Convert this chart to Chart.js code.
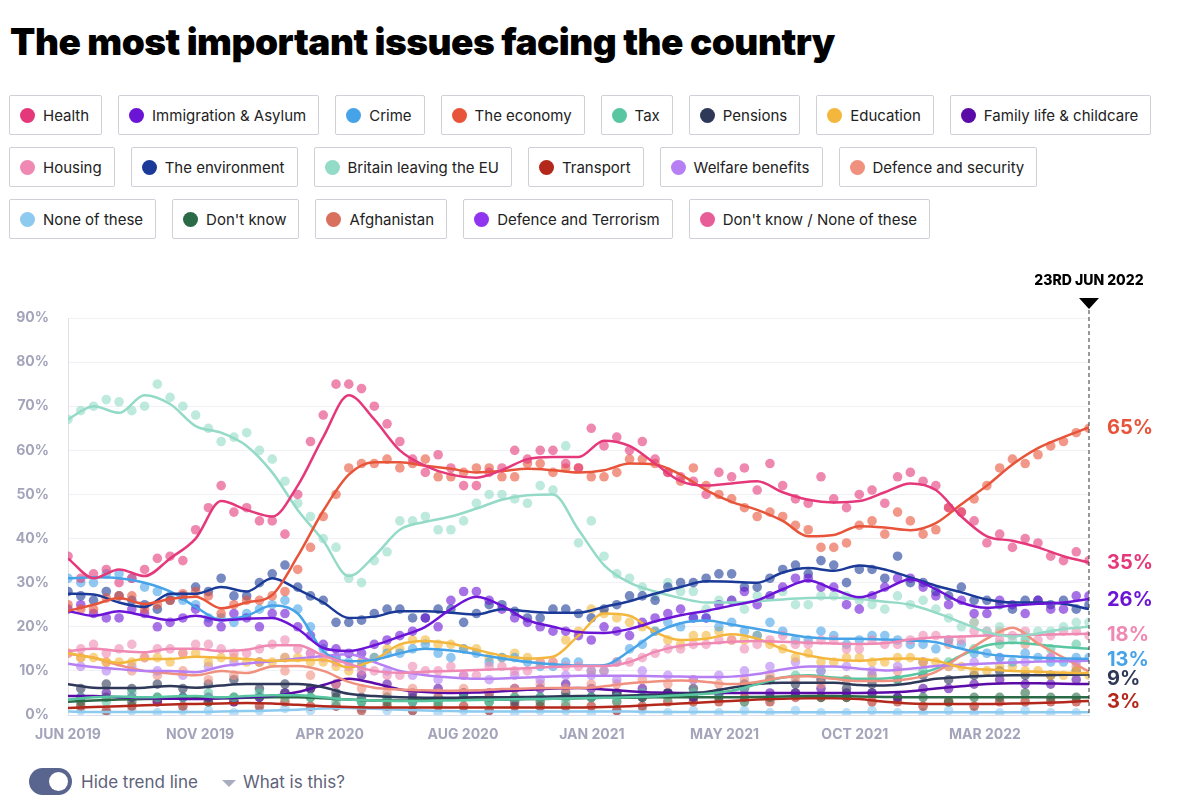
<!DOCTYPE html>
<html>
<head>
<meta charset="utf-8">
<script src="https://cdn.jsdelivr.net/npm/chart.js@4.4.0/dist/chart.umd.min.js"></script>
<style>
body { margin:0; background:#fff; font-family: Inter, "Noto Sans", sans-serif; width:1200px; height:807px; position:relative; overflow:hidden; }
h1 { position:absolute; left:10px; top:19px; margin:0; font-size:37px; line-height:46px; font-weight:900; color:#000; letter-spacing:-0.5px; }
.legend { position:absolute; left:9px; top:95px; }
.row { display:flex; gap:16px; margin-bottom:12px; }
.item { height:38px; border:1px solid #cfd0d8; border-radius:2px; display:flex; align-items:center; padding:0 12px 0 10px; font-size:15px; color:#222; }
.dot { width:15px; height:15px; border-radius:50%; margin-right:8px; }
#wrap { position:absolute; left:0; top:260px; width:1200px; height:492px; }
.controls { position:absolute; left:29px; top:768px; height:27px; display:flex; align-items:center; }
.toggle { width:43px; height:27px; border-radius:14px; background:#59658f; position:relative; }
.knob { position:absolute; right:4px; top:4px; width:19px; height:19px; border-radius:50%; background:#fff; }
.ctl { font-size:17px; color:#5e6279; margin-left:9px; }
.caret { width:0; height:0; border-left:7px solid transparent; border-right:7px solid transparent; border-top:7px solid #a9adc0; margin-left:24px; margin-top:3px; }
.caret + .ctl { margin-left:7px; }
</style>
</head>
<body>
<h1>The most important issues facing the country</h1>
<div class="legend" id="legend"></div>
<div id="wrap"><canvas id="mii"></canvas></div>
<div class="controls">
  <div class="toggle"><div class="knob"></div></div>
  <span class="ctl">Hide trend line</span>
  <span class="caret"></span>
  <span class="ctl">What is this?</span>
</div>
<script>
// weeks since the start of the series (Jun 2019); 160 = 23 Jun 2022
const trendWeeks = [0,4,8,12,16,20,24,28,32,36,40,44,48,52,56,60,64,68,72,76,80,84,88,92,96,100,104,108,112,116,120,124,128,132,136,140,144,148,152,156,160];
const dotWeeks = [2,6,10,14,18,22,26,30,34,38,42,46,50,54,58,62,66,70,74,78,82,86,90,94,98,102,106,110,114,118,122,126,130,134,138,142,146,150,154,158];

const tickWeeks = [0,20.7,41,61.9,82.1,102.9,123.3,143.7];
const tickLabels = ['JUN 2019','NOV 2019','APR 2020','AUG 2020','JAN 2021','MAY 2021','OCT 2021','MAR 2022'];
const markerWeek = 160;
const markerLabel = '23RD JUN 2022';

// trend lines (%)
const healthTrend = [35.5,31,33,31.5,35.5,40,48.5,46.5,45,52,63,72.5,67,60,56.5,54.5,53.8,55.5,58,58.5,58.5,62.2,61,57,53,52,52.5,53,50.5,48.8,48.2,48.5,50.5,52.5,51,45,40.5,39.5,38,36,34.6];
const economyTrend = [23.6,25,26.5,25.2,26.3,26.8,24.2,25.5,27.2,36,46.3,54.5,57.3,57.3,56.5,55.8,55,55.3,55.8,55.5,55,55.5,57,56.8,54.5,51,48.3,46.5,44,40.5,40.8,42.8,42.5,41.9,43.5,47.8,52,56.8,60.5,63,65.2];
const brexitTrend = [67,70,68.5,72.5,70.5,65.5,64,61,55,46.5,39.5,31.5,36,42,43.8,45,46.8,48.8,49.8,50,42,34,30,28,26.5,25.5,25.5,25.8,26.2,26.5,26.6,26.3,25.7,25,23.2,21,18.8,17.8,18.5,19.5,20];
const envTrend = [27.5,27.3,25.5,24.5,27.5,27.5,29,28,31,28.5,25.5,22,22.3,23.5,23.5,23.2,22.8,24,23.5,23.2,23.2,24.5,25.8,27.5,29,30.3,30.2,30,32.3,33.3,32.7,33.9,33,31.2,29.3,27.8,26.2,25.5,25.5,25.2,24];
const immTrend = [23.6,22.5,23.5,22.5,21.5,22.5,21.5,21.8,22,19.5,15.2,14.5,15.8,17.8,20,24,26.8,24.8,21.5,20,18.8,18.6,19.5,21.2,22.6,23.6,24.8,26,28.5,30.5,28.5,26.7,28.5,30.8,28.5,25.5,24.3,24.8,25.2,25.5,26.3];
const crimeTrend = [31,31.2,31,30,28,24.5,21.6,22.5,24.8,23,14.5,12.2,12.5,14,15,14.6,13.8,12.8,12,11.5,11.2,11.3,14.5,18.5,20.8,21.4,20.5,19.5,18.5,17.6,17.3,17.3,17.1,16.9,16.5,15,13.8,13.3,13,12.8,12.7];
const housingTrend = [14.5,15,14.5,14.2,15,15,14.5,14.8,15.8,15.8,13.5,11.6,10,9.6,9.8,10,10.2,10.4,10.6,10.9,11.1,11.1,12,14.3,15.7,16.2,16.6,16.8,16.6,16.4,16.2,16.1,16.3,17.1,17.6,17.8,18,18.1,18.2,18.3,18.4];
const eduTrend = [14,13,11.8,12.7,12.7,13.2,13,12.7,12.3,12.4,12.5,10.8,12.5,16,16.8,16.2,14.8,13.5,12.8,13.2,18,23,22.5,18.8,17,17.3,18.3,17.3,15,13.5,12.6,12.3,12.7,12.8,12.3,10.8,10.3,10,9.8,9.6,9.5];
const welfareTrend = [11.6,10.9,10.4,10,10,9.7,11,11.7,12.2,12.8,13.4,13.8,12,10,9,8.5,8.2,8.3,8.5,8.7,8.9,8.9,8.9,8.8,8.7,8.6,8.7,9.3,10.3,11,11,10.5,10.1,10.5,11.1,11.4,11.7,11.9,12.1,12.2,12.3];
const defenceTrend = [13.9,13,11.3,10,9.4,9,10,9.5,11,11.1,10,7.5,6.2,5.8,5.6,5.5,5.6,5.9,6,6.1,6.1,6.5,7.2,7.6,7.8,7.5,7,7.5,8.5,8.8,8.2,7.7,7.7,8.2,9.8,13.5,17.3,19.8,16.2,13,9.8];
const pensionsTrend = [7,6.2,6.1,6.2,6.6,6.2,6.7,7,7,7,6.3,4.8,4.3,4,3.9,3.9,4,4,4.1,4.2,4.3,4.3,4.4,4.6,4.8,5.2,6.2,7,7.3,7.3,7.3,6.8,6.7,7.2,8.2,8.6,8.9,9,9,9.1,9.2];
const taxTrend = [3.5,4,4.2,4,4.2,4.3,4,4.3,4.5,4.5,4,3.5,3.3,3.2,3.2,3.3,3.4,3.5,3.6,3.7,3.8,3.9,4,4.2,4.5,4.8,5.5,7,8.5,9,8.5,8.2,8.3,9,10.5,13.5,15.8,16.4,16,15.4,15];
const familyTrend = [4.3,4.3,4,3.8,3.7,3.6,3.8,4,4.3,5.2,6.8,8.2,7.2,5.8,5.2,5,5.1,5.4,5.7,6,6.1,5.8,5.4,5.1,5,5,5,5,5,5,5,5,5.1,5.4,6,6.5,7,7.2,7.2,7.1,7];
const dkTrend = [3,3.3,3.5,3.6,3.7,3.8,3.8,3.9,4,4,3.8,3.5,3.3,3.3,3.4,3.5,3.5,3.5,3.6,3.7,3.8,3.9,3.9,4,4,4,4,4.1,4.2,4.3,4.3,4.2,4.1,4,4,4,4,4,4,4,4];
const transportTrend = [1.6,1.8,2,2.2,2.4,2.5,2.6,2.7,2.6,2.3,2,1.8,1.7,1.7,1.7,1.7,1.7,1.7,1.7,1.7,1.7,1.8,2,2.3,2.6,2.9,3.2,3.5,3.7,3.8,3.8,3.6,3,2.6,2.5,2.5,2.5,2.6,2.7,2.9,3.2];
const noneTrend = [0.8,0.7,0.7,0.7,0.7,0.7,0.8,0.9,1,1.2,1.5,1.6,1.4,1.2,1,0.9,0.8,0.8,0.8,0.8,0.8,0.8,0.8,0.7,0.7,0.7,0.7,0.7,0.6,0.6,0.6,0.6,0.6,0.6,0.6,0.6,0.6,0.6,0.6,0.6,0.6];

// individual poll results (%), between trend points
const healthDots = [31,33,31,35.5,35,47,46,44,41,62,75,74,66,58,59,52,55,60,60,57,65,63,62,55,53,55,56,57,49,54,47,51,54,53,47,44,41,40,36,37];
const economyDots = [24,26.5,27,25,27.5,27,25,26,28,38,50,57,58,57,54,55,56,54,57,56,54,55,58,55,56,50,47,46,43,38,39,44,46,41,47,49,56,57,61,64];
const brexitDots = [69,71.5,69,75,70,65,63,60,53,45,38,30,37,44,42,44,50,49,52,61,44,32,29,30,28,26,24,27,25,27,27,25,27,26,22,21,20,18,19,21];
const envDots = [27,28,26,24,27,28,27,30,34,27,21,21.5,24,22,24,21,25,23.5,22,24,22,25,27,29,30,32,29,31,34,35,30,33,36,30,27,26,25,26,25,24];
const immDots = [25,22,24,20,22,21,23,20,23,18,15,14,17,19,20,28,26,22,20,19,17,19,21,23,22,25,28,27,31,29,25,27,31,29,25,23,26,23,24,27];
const crimeDots = [30,32,31,28,26,22,21,24,26,20,13,11,14,15,14,15,12,13,11,12,10,12,16,21,22,20,19,21,17,19,16,18,17,16,17,14,13,14,12,13];
const housingDots = [15,14,16,15,14,16,14,15,17,14,12,10,9,11,10,9,11,10,12,11,10,12,13,15,16,17,15,17,16,17,15,17,16,18,17,19,17,19,18,19];
const eduDots = [13,12,12,13,14,12,13,12,13,12,11,12,15,17,16,15,13,14,12,17,24,22,20,17,18,19,17,16,13,12,13,12,13,12,11,10,11,10,9,10];
const welfareDots = [11,10,11,10,9,11,12,12,13,14,13,12,10,9,8,9,8,9,8,9,9,8,10,9,8,9,10,11,12,10,11,10,11,12,11,12,13,12,13,12];
const defenceDots = [13,12,10,9,10,8,9,12,10,9,7,6,5,6,5,6,5,6,7,6,7,7,8,7,8,7,8,9,8,7,8,9,10,12,16,21,19,16,13,11];
const pensionsDots = [6,7,6,7,6,7,8,6,7,6,5,4,4,3,4,5,4,3,4,5,4,5,4,5,6,5,7,8,7,8,6,7,8,9,8,9,10,9,9,10];
const taxDots = [4,3,5,4,4,5,4,5,4,4,3,3,4,3,3,4,3,4,4,3,4,4,5,4,5,5,6,8,9,10,8,9,8,10,12,15,16,17,15,16];
const familyDots = [4,5,4,3,4,4,3,4,5,6,7,9,7,5,6,5,5,6,6,7,6,5,6,5,4,5,6,5,5,6,5,5,4,6,6,7,8,7,7,8];
const dkDots = [3,4,3,4,4,3,4,4,5,4,4,3,3,4,3,4,3,4,3,4,4,3,4,5,4,4,3,4,5,4,4,5,4,4,3,4,4,5,4,4];
const transportDots = [2,1,2,3,2,3,3,2,3,2,2,1,2,1,2,2,1,2,2,2,2,1,2,3,3,3,4,3,4,4,4,3,3,2,3,2,3,3,3,3];
const noneDots = [1,0.5,1,0.5,1,1,0.5,1,1.5,1,2,1.5,1,1,0.5,1,1,0.5,1,1,0.5,1,1,0.5,1,0.5,1,0.5,1,0.5,0.5,1,0.5,0.5,1,0.5,0.5,1,0.5,0.5];

// more poll results for the larger issues, on the trend weeks
const healthDots2 = [36,32,30,33,36,42,52,47,44,50,68,75,70,62,55,56,52,56,58,60,56,61,60,58,54,50,54,51,52,48,49,50,48,55,52,46,39,38,39,35,35];
const economyDots2 = [25,24,27,24,26,28,23,26,27,33,45,56,57,56,58,54,56,54,57,55,56,54,58,57,53,52,49,45,45,42,38,43,41,44,42,46,52,58,59,62,65];
const brexitDots2 = [67,70,71,70,72,68,62,64,58,48,40,31,35,44,45,42,48,50,48,51,39,36,31,27,28,24,26,27,28,25,27,26,24,25,24,20,19,17,19,20,21];
const envDots2 = [28,26,27,25,26,29,31,27,32,29,26,21,23,24,22,24,23,25,22,24,23,24,27,26,30,31,32,29,33,32,34,33,31,30,28,29,26,24,26,26,25];
const immDots2 = [24,23,22,23,21,24,20,22,23,20,16,14,16,18,22,26,28,24,21,19,18,20,18,22,24,22,26,25,29,31,29,24,29,31,27,26,23,25,26,24,27];
const crimeDots2 = [31,30,32,29,27,25,22,23,25,24,15,12,13,14,16,13,14,13,12,11,12,10,15,19,20,22,21,18,19,17,18,17,18,16,15,16,14,12,13,12,13];
const housingDots2 = [14,16,15,13,15,16,15,14,16,15,13,11,10,9,10,11,9,11,10,12,11,10,12,14,15,16,17,16,18,16,17,15,16,17,18,17,19,18,17,19,18];
const eduDots2 = [14,13,12,13,12,14,13,12,12,13,12,10,13,15,17,16,15,13,13,12,19,23,21,19,16,18,17,18,15,14,12,13,12,13,12,11,10,11,10,9,9];

const colors = {
  'Health':'#e5387a', 'Immigration & Asylum':'#6c14d6', 'Crime':'#47a3e8', 'The economy':'#e8543a',
  'Tax':'#58c6a0', 'Pensions':'#2e3858', 'Education':'#f4b73e', 'Family life & childcare':'#5a0aa6',
  'Housing':'#ef88b3', 'The environment':'#1b3a98', 'Britain leaving the EU':'#93dac7', 'Transport':'#b3281b',
  'Welfare benefits':'#b680f4', 'Defence and security':'#f0907e', 'None of these':'#8ccaf0', "Don't know":'#2a6a47',
  'Afghanistan':'#d9705d', 'Defence and Terrorism':'#8f35ef', "Don't know / None of these":'#e85c97'
};

const legendRows = [
  ['Health','Immigration & Asylum','Crime','The economy','Tax','Pensions','Education','Family life & childcare'],
  ['Housing','The environment','Britain leaving the EU','Transport','Welfare benefits','Defence and security'],
  ['None of these',"Don't know",'Afghanistan','Defence and Terrorism',"Don't know / None of these"]
];

const series = [
  {label:'Health', trend:healthTrend, dots:healthDots, dots2:healthDots2},
  {label:'The economy', trend:economyTrend, dots:economyDots, dots2:economyDots2},
  {label:'Immigration & Asylum', trend:immTrend, dots:immDots, dots2:immDots2},
  {label:'The environment', trend:envTrend, dots:envDots, dots2:envDots2},
  {label:'Britain leaving the EU', trend:brexitTrend, dots:brexitDots, dots2:brexitDots2},
  {label:'Housing', trend:housingTrend, dots:housingDots, dots2:housingDots2},
  {label:'Crime', trend:crimeTrend, dots:crimeDots, dots2:crimeDots2},
  {label:'Education', trend:eduTrend, dots:eduDots, dots2:eduDots2},
  {label:'Welfare benefits', trend:welfareTrend, dots:welfareDots},
  {label:'Defence and security', trend:defenceTrend, dots:defenceDots},
  {label:'Tax', trend:taxTrend, dots:taxDots},
  {label:'Pensions', trend:pensionsTrend, dots:pensionsDots},
  {label:'Family life & childcare', trend:familyTrend, dots:familyDots},
  {label:"Don't know", trend:dkTrend, dots:dkDots},
  {label:'Transport', trend:transportTrend, dots:transportDots},
  {label:'None of these', trend:noneTrend, dots:noneDots}
];

const endLabels = ['The economy','Health','Immigration & Asylum','Housing','Crime','Pensions','Transport'];

// legend boxes
let legendEl = document.getElementById('legend');
legendRows.forEach(function(r) {
  let row = document.createElement('div');
  row.className = 'row';
  r.forEach(function(name) {
    let it = document.createElement('div');
    it.className = 'item';
    it.innerHTML = '<span class="dot" style="background:' + colors[name] + '"></span>';
    it.appendChild(document.createTextNode(name));
    row.appendChild(it);
  });
  legendEl.appendChild(row);
});

function fade(hex, a) {
  let n = parseInt(hex.slice(1), 16);
  return 'rgba(' + (n >> 16) + ',' + ((n >> 8) & 255) + ',' + (n & 255) + ',' + a + ')';
}

function dotSet(label, weeks, vals) {
  return {
    label: label + ' polls',
    data: weeks.map(function(w, i) { return {x: w, y: vals[i]}; }),
    showLine: false,
    pointRadius: 4.8,
    pointBorderWidth: 0,
    pointBackgroundColor: fade(colors[label], 0.6),
    order: 1
  };
}

let datasets = [];
series.forEach(function(s) {
  datasets.push({
    label: s.label,
    data: trendWeeks.map(function(w, i) { return {x: w, y: s.trend[i]}; }),
    borderColor: colors[s.label],
    borderWidth: 2.5,
    pointRadius: 0,
    fill: false,
    cubicInterpolationMode: 'monotone',
    order: 0
  });
});
series.forEach(function(s) {
  datasets.push(dotSet(s.label, dotWeeks, s.dots));
  if (s.dots2) datasets.push(dotSet(s.label, trendWeeks, s.dots2));
});

const markerPlugin = {
  id: 'marker',
  afterDatasetsDraw(chart) {
    const {ctx, chartArea, scales} = chart;
    const x = scales.x.getPixelForValue(markerWeek);
    ctx.save();
    ctx.strokeStyle = '#333';
    ctx.lineWidth = 1;
    ctx.setLineDash([4, 3]);
    ctx.beginPath();
    ctx.moveTo(x, chartArea.top - 8);
    ctx.lineTo(x, chartArea.bottom);
    ctx.stroke();
    ctx.setLineDash([]);
    ctx.fillStyle = '#000';
    ctx.beginPath();
    ctx.moveTo(x - 10, chartArea.top - 20);
    ctx.lineTo(x + 10, chartArea.top - 20);
    ctx.lineTo(x, chartArea.top - 9);
    ctx.closePath();
    ctx.fill();
    ctx.font = '800 14px Inter';
    ctx.textAlign = 'center';
    ctx.textBaseline = 'middle';
    ctx.fillText(markerLabel, x, chartArea.top - 37);

    // value labels at the end of the main trend lines
    let labs = endLabels.map(function(name) {
      let s = series.find(function(d) { return d.label == name; });
      let v = s.trend[s.trend.length - 1];
      return {text: Math.round(v) + '%', y: scales.y.getPixelForValue(v), color: colors[name]};
    });
    labs.sort(function(a, b) { return a.y - b.y; });
    for (let i = 1; i < labs.length; i++) {
      if (labs[i].y - labs[i - 1].y < 19) labs[i].y = labs[i - 1].y + 19;
    }
    ctx.font = '700 20px Inter';
    ctx.textAlign = 'left';
    labs.forEach(function(l) {
      ctx.fillStyle = l.color;
      ctx.fillText(l.text, chartArea.right + 18, l.y + 1);
    });
    ctx.restore();
  }
};

let ctx = document.getElementById('mii').getContext('2d');
let myChart = new Chart(ctx, {
  type: 'line',
  data: { datasets: datasets },
  plugins: [markerPlugin],
  options: {
    responsive: true,
    maintainAspectRatio: false,
    animation: false,
    layout: { padding: { top: 58, right: 111, left: 0, bottom: 0 } },
    plugins: {
      legend: { display: false },
      tooltip: { enabled: false }
    },
    scales: {
      x: {
        type: 'linear',
        min: 0,
        max: 160,
        afterBuildTicks: function(axis) {
          axis.ticks = tickWeeks.map(function(v) { return {value: v}; });
        },
        afterFit: function(axis) { axis.height = 37; },
        grid: { display: false },
        border: { display: true, color: '#dde0ea' },
        ticks: {
          autoSkip: false,
          maxRotation: 0,
          padding: 3,
          color: '#a3a4ba',
          font: { family: 'Inter', size: 14, weight: '700' },
          callback: function(value, index) { return tickLabels[index]; }
        }
      },
      y: {
        min: 0,
        max: 90,
        afterFit: function(axis) { axis.width = 68; },
        grid: { color: '#f1f1f5', drawTicks: false },
        border: { display: true, color: '#dfe1ea' },
        ticks: {
          stepSize: 10,
          padding: 19,
          color: '#a3a4ba',
          font: { family: 'Inter', size: 14, weight: '700' },
          callback: function(v) { return v + '%'; }
        }
      }
    }
  }
});
</script>
</body>
</html>
